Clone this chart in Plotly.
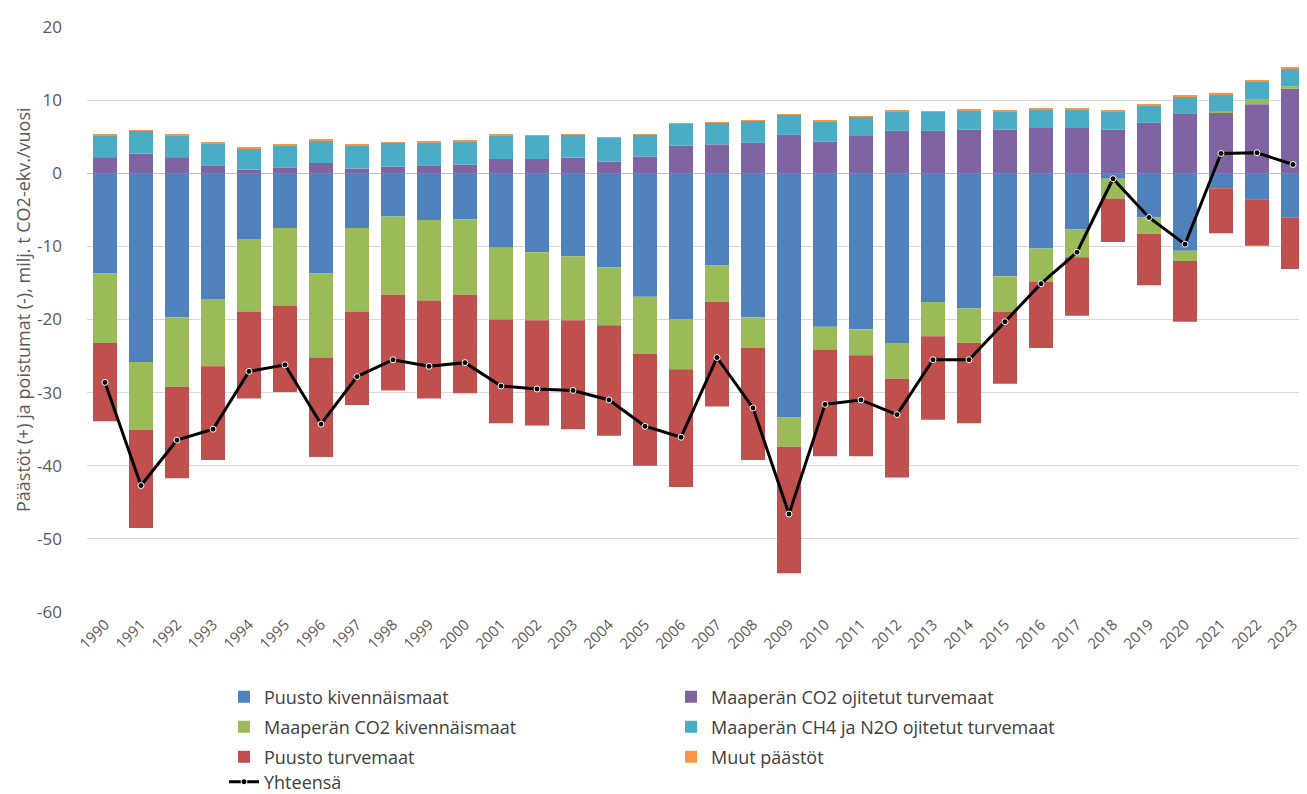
import plotly.graph_objects as go

years = [str(y) for y in range(1990, 2024)]

puusto_kiv = [-13.7, -25.8, -19.7, -17.2, -9.0, -7.5, -13.7, -7.5, -5.9, -6.4, -6.3, -10.2, -10.8, -11.35,
              -12.9, -16.9, -20.0, -12.6, -19.7, -33.4, -21.0, -21.35, -23.2, -17.6, -18.5, -14.1, -10.3,
              -7.7, -0.75, -6.05, -10.6, -2.05, -3.57, -6.1]
maap_co2_turve = [2.2, 2.7, 2.2, 1.0, 0.5, 0.8, 1.4, 0.65, 0.9, 1.0, 1.2, 1.95, 1.95, 2.15, 1.6, 2.3, 3.8,
                  3.95, 4.15, 5.25, 4.3, 5.1, 5.8, 5.8, 5.95, 5.95, 6.3, 6.3, 5.95, 6.9, 8.2, 8.3, 9.45, 11.55]
maap_co2_kiv = [-9.5, -9.3, -9.5, -9.2, -9.9, -10.6, -11.5, -11.4, -10.7, -11.0, -10.3, -9.8, -9.3, -8.75,
                -7.9, -7.8, -6.8, -5.0, -4.2, -4.0, -3.1, -3.55, -4.9, -4.7, -4.7, -4.8, -4.5, -3.8, -2.75,
                -2.25, -1.4, 0.2, 0.7, 0.35]
ch4_n2o = [3.0, 3.1, 3.0, 3.1, 2.9, 3.0, 3.1, 3.15, 3.25, 3.25, 3.15, 3.2, 3.15, 3.1, 3.25, 2.95, 2.95, 2.95,
           3.0, 2.75, 2.75, 2.6, 2.7, 2.6, 2.65, 2.55, 2.45, 2.45, 2.55, 2.4, 2.3, 2.3, 2.35, 2.4]
puusto_turve = [-10.7, -13.4, -12.5, -12.8, -11.9, -11.8, -13.6, -12.8, -13.1, -13.4, -13.5, -14.2, -14.4,
                -14.9, -15.1, -15.3, -16.1, -14.3, -15.3, -17.3, -14.6, -13.8, -13.5, -11.4, -11.0, -9.9,
                -9.1, -8.0, -5.9, -7.0, -8.3, -6.15, -6.33, -7.0]
muut = [0.1, 0.1, 0.1, 0.1, 0.1, 0.1, 0.1, 0.1, 0.1, 0.05, 0.1, 0.1, 0.05, 0.1, 0.1, 0.1, 0.1, 0.1, 0.1,
        0.1, 0.1, 0.1, 0.05, 0.1, 0.1, 0.05, 0.1, 0.1, 0.05, 0.1, 0.2, 0.2, 0.15, 0.2]
yhteensa = [-28.6, -42.7, -36.5, -35.0, -27.1, -26.2, -34.3, -27.8, -25.5, -26.4, -25.9, -29.1, -29.5, -29.7,
            -31.0, -34.6, -36.1, -25.2, -32.1, -46.6, -31.6, -31.0, -33.0, -25.5, -25.5, -20.3, -15.1,
            -10.8, -0.75, -6.05, -9.7, 2.7, 2.8, 1.2]

y_ticks = [-60, -50, -40, -30, -20, -10, 0, 10, 20]
y_ticklabels = ["-60", "-50", "-40", "-30", "-20", "-10", "0", "10", "20"]
y_title = "Päästöt (+) ja poistumat (-), milj. t CO2-ekv./vuosi"

# (name, values, colour, legend row)
series = [
    ("Puusto kivennäismaat", puusto_kiv, "#4f81bd", "legend"),
    ("Maaperän CO2 ojitetut turvemaat", maap_co2_turve, "#8064a2", "legend"),
    ("Maaperän CO2 kivennäismaat", maap_co2_kiv, "#9bbb59", "legend2"),
    ("Maaperän CH4 ja N2O ojitetut turvemaat", ch4_n2o, "#4bacc6", "legend2"),
    ("Puusto turvemaat", puusto_turve, "#c0504d", "legend3"),
    ("Muut päästöt", muut, "#f79646", "legend3"),
]

font_family = "Open Sans, Liberation Sans, sans-serif"

fig = go.Figure()
for name, vals, color, leg in series:
    fig.add_trace(go.Bar(x=years, y=vals, name=name, legend=leg,
                         marker=dict(color=color, line=dict(width=0))))

fig.add_trace(go.Scatter(
    x=years, y=yhteensa, name="Yhteensä", mode="lines+markers", legend="legend4",
    line=dict(color="black", width=3),
    marker=dict(color="black", size=6, line=dict(color="white", width=1)),
))

PLOT_TOP, PLOT_BOTTOM, PLOT_LEFT, PLOT_RIGHT = 19, 604, 79, 1303
plot_h = PLOT_BOTTOM - PLOT_TOP
plot_w = PLOT_RIGHT - PLOT_LEFT


def leg(row_center_px):
    return dict(
        orientation="h", x=(216 - PLOT_LEFT) / plot_w, y=(PLOT_BOTTOM - row_center_px) / plot_h,
        xanchor="left", yanchor="middle",
        entrywidth=402, entrywidthmode="pixels", traceorder="normal",
        font=dict(size=18, color="#404040", family=font_family), itemwidth=30,
        bgcolor="rgba(0,0,0,0)",
    )


fig.update_layout(
    barmode="relative",
    bargap=0.333,
    width=1307, height=794,
    margin=dict(l=PLOT_LEFT, r=1307 - PLOT_RIGHT, t=PLOT_TOP, b=794 - PLOT_BOTTOM, autoexpand=False),
    plot_bgcolor="white", paper_bgcolor="white",
    font=dict(family=font_family, color="#595959"),
    showlegend=True,
    legend=leg(689),
    legend2=leg(719),
    legend3=leg(749),
    legend4=leg(774),
    annotations=[dict(
        text=y_title, textangle=-90, xref="paper", yref="paper",
        x=(15 - PLOT_LEFT) / plot_w, y=(PLOT_BOTTOM - 302) / plot_h,
        xanchor="center", yanchor="middle", showarrow=False,
        font=dict(size=18, color="#595959", family=font_family),
    )],
)

fig.update_xaxes(
    type="category", range=[-0.5, len(years) - 0.5], autorange=False,
    tickangle=-45, tickfont=dict(size=15, color="#595959"),
    showgrid=False, showline=False, ticks="", automargin=False,
)
fig.update_yaxes(
    range=[-60, 20], autorange=False, tickvals=y_ticks, ticktext=y_ticklabels,
    tickfont=dict(size=17, color="#595959"), ticklabelstandoff=24,
    gridcolor="#d9d9d9", gridwidth=1, zeroline=True, zerolinecolor="#bfbfbf", zerolinewidth=1,
    automargin=False, ticks="",
)

fig.write_html("out.html")
